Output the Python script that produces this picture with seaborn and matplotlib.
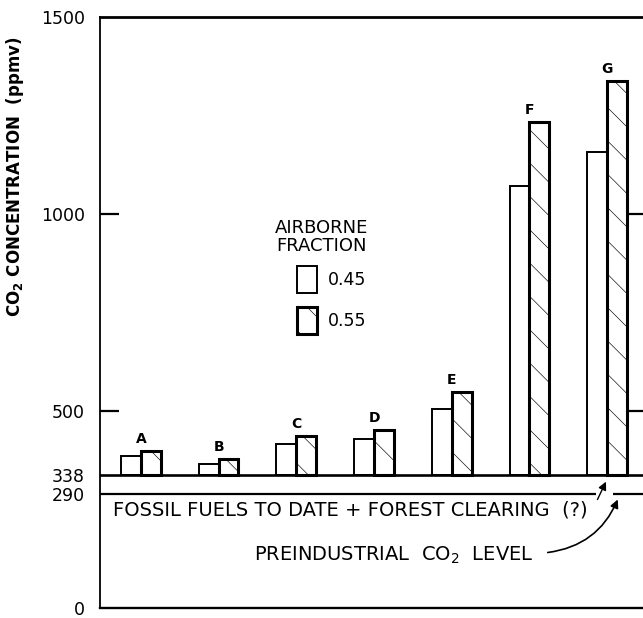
import matplotlib
matplotlib.use("Agg")
import matplotlib.pyplot as plt
import seaborn as sns
import pandas as pd

# Projected CO2 concentrations for scenarios A-G under two airborne fractions
scenarios = ["A", "B", "C", "D", "E", "F", "G"]
fractions = ["0.45", "0.55"]
co2_045 = [386, 366, 417, 429, 505, 1070, 1157]
co2_055 = [399, 379, 437, 452, 549, 1233, 1338]
current_level = 338
preindustrial_level = 290
y_ticks = [0, 290, 338, 500, 1000, 1500]
y_tick_labels = ["0", "290", "338", "500", "1000", "1500"]

df = pd.DataFrame({
    "scenario": scenarios * 2,
    "fraction": [fractions[0]] * len(scenarios) + [fractions[1]] * len(scenarios),
    "co2": co2_045 + co2_055,
})
# bars rise from today's level, so plot the excess with bottom = 338
df["excess"] = df["co2"] - current_level

sns.set_theme(style="white")
plt.rcParams["font.family"] = ["DejaVu Sans"]
plt.rcParams["text.color"] = "black"
plt.rcParams["axes.labelcolor"] = "black"
plt.rcParams["hatch.linewidth"] = 0.45

fig = plt.figure(figsize=(6.43, 6.18), dpi=100)
ax = fig.add_axes([100 / 643, 10 / 618, 545 / 643, 591 / 618])

sns.barplot(data=df, x="scenario", y="excess", hue="fraction",
            order=scenarios, hue_order=fractions,
            palette=["white", "white"], saturation=1, width=0.51,
            bottom=current_level, edgecolor="black", linewidth=1.4,
            errorbar=None, legend=False, ax=ax)

for bar in ax.containers[1]:
    bar.set_hatch("\\")
    bar.set_linewidth(2.2)

# scenario letters above each pair
for i, s in enumerate(scenarios):
    top = max(co2_045[i], co2_055[i])
    ax.text(i, top + 30, s, ha="center", va="center", fontsize=10,
            fontweight="bold", color="black")

ax.set_xlim(-0.526, 6.487)
ax.set_ylim(0, 1500)
ax.set_xticks([])
ax.set_xlabel("")

# reference levels
ax.axhline(current_level, color="black", lw=1.9, zorder=3)
ax.hlines(preindustrial_level, -0.526, 5.86, color="black", lw=1.6, zorder=3)
ax.hlines(preindustrial_level, 6.08, 6.487, color="black", lw=1.6, zorder=3)

for side, lw in [("left", 1.3), ("top", 2.0), ("bottom", 1.7), ("right", 1.3)]:
    ax.spines[side].set_visible(True)
    ax.spines[side].set_color("black")
    ax.spines[side].set_linewidth(lw)

ax.set_yticks(y_ticks)
ax.set_yticklabels(y_tick_labels)
ax.tick_params(axis="y", direction="in", length=14, width=1.6, left=True,
               right=True, pad=11, labelsize=12.5, labelcolor="black",
               color="black")
for val, tick in zip(y_ticks, ax.yaxis.get_major_ticks()):
    if val not in (500, 1000):
        tick.tick1line.set_visible(False)
        tick.tick2line.set_visible(False)

ax.set_ylabel(r"CO$_\mathbf{2}$ CONCENTRATION  (ppmv)", fontsize=12,
              fontweight="bold", color="black")
ax.yaxis.set_label_coords(-0.135, 0.729)

# legend
ax.text(2.32, 964, "AIRBORNE", ha="center", va="center", fontsize=13,
        color="black")
ax.text(2.32, 919, "FRACTION", ha="center", va="center", fontsize=13,
        color="black")
leg = ax.legend(handles=[ax.containers[0][0], ax.containers[1][0]],
                labels=fractions, loc="upper left",
                bbox_to_anchor=(0.3615, 0.5787), frameon=False,
                borderpad=0, borderaxespad=0, fontsize=12.5,
                handlelength=1.15, handleheight=2.02, handletextpad=0.6,
                labelspacing=0.8)
for t in leg.get_texts():
    t.set_color("black")

# annotations below the current level
ax.text(-0.359, 249, "FOSSIL FUELS TO DATE + FOREST CLEARING  (?)",
        ha="left", va="center", fontsize=14, color="black")
ax.text(1.46, 134.5, r"PREINDUSTRIAL  CO$_2$  LEVEL", ha="left", va="center",
        fontsize=14, color="black")
ax.annotate("", xy=(6.0, 327), xytext=(5.86, 269),
            arrowprops=dict(arrowstyle="-|>", color="black", lw=1.0,
                            mutation_scale=12))
ax.annotate("", xy=(6.15, 282), xytext=(5.2, 140),
            arrowprops=dict(arrowstyle="-|>", color="black", lw=1.2,
                            mutation_scale=12,
                            connectionstyle="arc3,rad=0.3"))

fig.savefig("out.png", dpi=100)
